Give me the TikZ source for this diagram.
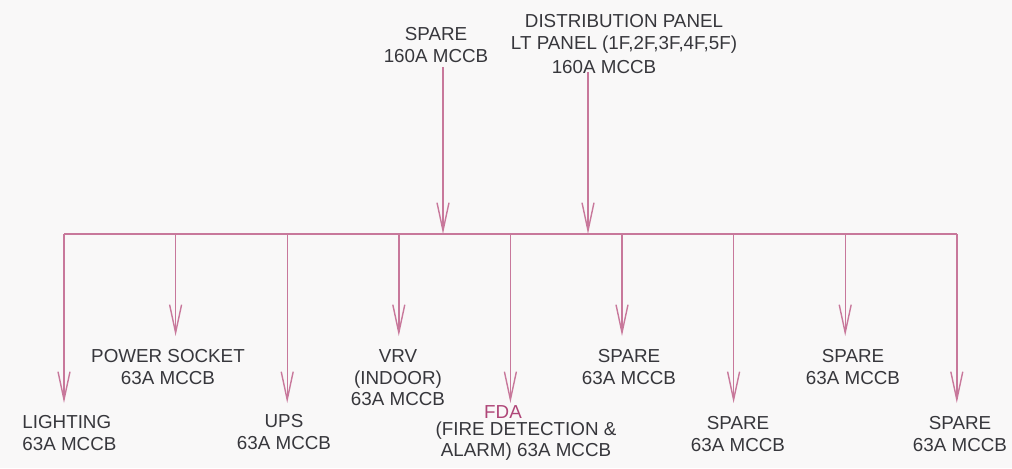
\documentclass[tikz,border=0pt]{standalone}
\usepackage{fontspec}
\setmainfont{Liberation Sans}
\usetikzlibrary{arrows.meta}
\definecolor{bg}{RGB}{249,248,248}
\definecolor{txt}{RGB}{55,55,60}
\definecolor{wire}{RGB}{200,120,155}
\definecolor{fdac}{RGB}{175,70,120}
\begin{document}
\begin{tikzpicture}[x=0.5pt,y=-0.5pt,
  lbl/.style={font=\fontsize{9.4pt}{10.75pt}\selectfont, text=txt, align=center, inner sep=0pt},
  wireline/.style={draw=wire, line width=0.7pt},
  feed/.style={wireline, -{Straight Barb[length=14pt,width=6pt]}}]
\fill[bg] (0,0) rectangle (1012,468);
\useasboundingbox (0,0) rectangle (1012,468);

% top labels
\node[lbl] (spTop) at (436,45) {SPARE\\160A MCCB};
\node[lbl] (dist) at (624,34) {DISTRIBUTION PANEL\\LT PANEL (1F,2F,3F,4F,5F)};
\node[lbl] (distA) at (604,67) {160A MCCB};

% bottom labels
\node[lbl, align=left, anchor=west] (light) at (22,433) {LIGHTING\\63A MCCB};
\node[lbl] (psock) at (168,367) {POWER SOCKET\\63A MCCB};
\node[lbl] (ups) at (284,432) {UPS\\63A MCCB};
\node[lbl] (vrv) at (398,378) {VRV\\(INDOOR)\\63A MCCB};
\node[lbl, text=fdac] (fdaA) at (503,412) {FDA};
\node[lbl] (fdaB) at (526,441) {(FIRE DETECTION \&\\ALARM) 63A MCCB};
\node[lbl] (sp1) at (629,367) {SPARE\\63A MCCB};
\node[lbl] (sp2) at (738,434) {SPARE\\63A MCCB};
\node[lbl] (sp3) at (853,367) {SPARE\\63A MCCB};
\node[lbl] (sp4) at (960,434) {SPARE\\63A MCCB};

% incoming feeders
\coordinate (sS) at (443,67);
\coordinate (bS) at (443,234);
\coordinate (dS) at (588,72);
\coordinate (bD) at (588,234);
\draw[feed] (sS) -- (bS);
\draw[feed] (dS) -- (bD);

% bus and outgoing feeders
\foreach \i/\x/\t in {1/64/403, 2/175.6/336, 3/287.2/403, 4/398.8/336, 5/510.4/403,
                      6/622/336, 7/733.6/403, 8/845.2/336, 9/956.8/403}{
  \coordinate (b\i) at (\x,234);
  \coordinate (t\i) at (\x,\t);
}
\draw[wireline] (b1) -- (b9);
\foreach \i in {1,...,9}{
  \draw[feed] (b\i) -- (t\i);
}
\end{tikzpicture}
\end{document}
